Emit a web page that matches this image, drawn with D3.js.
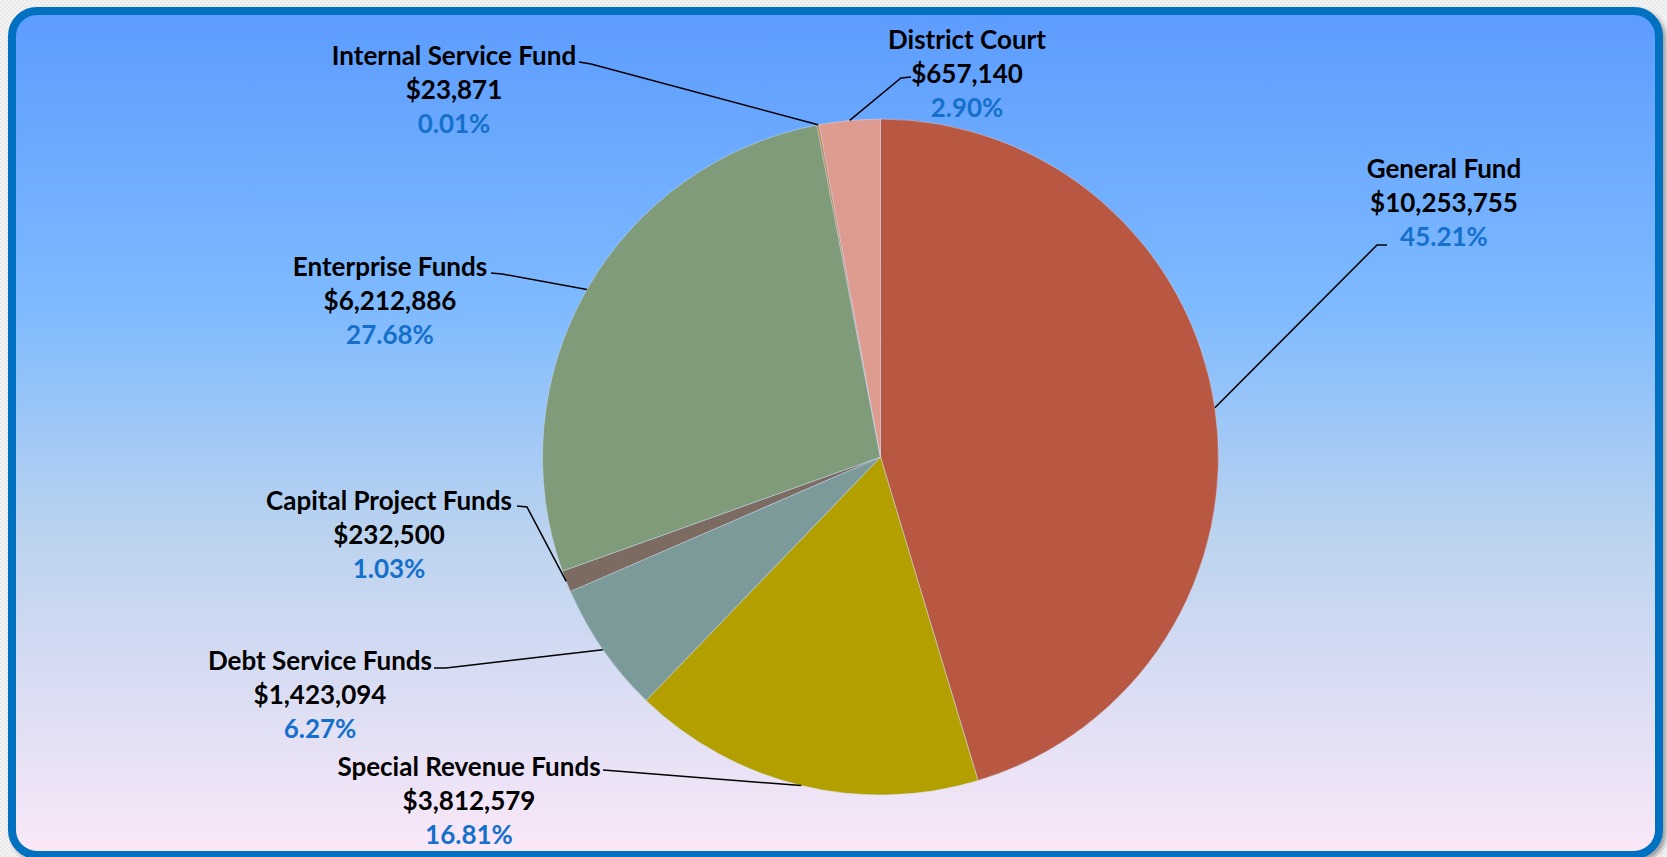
<!DOCTYPE html>
<html>
<head>
<meta charset="utf-8">
<script src="https://cdn.jsdelivr.net/npm/d3@7"></script>
<style>
  html, body { margin: 0; padding: 0; overflow: hidden; background: #f1f1f1; }
  svg { display: block; }
  text { font-family: Lato, "Open Sans", sans-serif; font-weight: 700; }
</style>
</head>
<body>
<svg id="chart" width="1667" height="857"></svg>
<script>
// Fund revenue breakdown
const funds   = ["General Fund", "Special Revenue Funds", "Debt Service Funds", "Capital Project Funds",
                 "Enterprise Funds", "Internal Service Fund", "District Court"];
const amounts = [10253755, 3812579, 1423094, 232500, 6212886, 23871, 657140];
const shares  = ["45.21%", "16.81%", "6.27%", "1.03%", "27.68%", "0.01%", "2.90%"];
const sliceColors = ["#B95842", "#B3A000", "#7B9A99", "#7C6B60", "#7F9B7A", "#C6833A", "#DE9C90"];

// Label block centre (first line) and leader stub [start, elbow] for each slice
const labelCentre = [[1444, 168], [469, 766], [320, 660], [389, 500], [390, 266], [454, 55], [967, 39]];
const leaderStub  = [[[1387, 245], [1377, 245]], [[603, 770], [616, 771]], [[434, 668], [446, 668]],
                     [[517, 506], [527, 507]], [[491, 273], [502, 274]], [[579, 62], [591, 64]],
                     [[911, 77], [901, 78]]];

const W = 1667, H = 857;
const cx = 880.5, cy = 457, R = 338;
const lineGap = 34;

const svg = d3.select("#chart");
const defs = svg.append("defs");

// page texture outside the frame
const pat = defs.append("pattern").attr("id", "tex").attr("width", 4).attr("height", 4)
  .attr("patternUnits", "userSpaceOnUse");
pat.append("rect").attr("width", 4).attr("height", 4).attr("fill", "#f3f3f3");
pat.append("path").attr("d", "M0,4 L4,0").attr("stroke", "#e2e2e2").attr("stroke-width", 1);
svg.append("rect").attr("width", W).attr("height", H).attr("fill", "url(#tex)");

// background gradient inside the frame
const grad = defs.append("linearGradient").attr("id", "bg").attr("x1", 0).attr("y1", 0).attr("x2", 0).attr("y2", 1);
[["0%", "#5C9CFF"], ["35%", "#7EBAFF"], ["62%", "#BBD3EF"], ["100%", "#FBE8F8"]]
  .forEach(([o, c]) => grad.append("stop").attr("offset", o).attr("stop-color", c));

const shadow = defs.append("filter").attr("id", "shadow").attr("x", "-5%").attr("y", "-5%")
  .attr("width", "110%").attr("height", "110%");
shadow.append("feDropShadow").attr("dx", 3).attr("dy", 3).attr("stdDeviation", 2)
  .attr("flood-color", "#000").attr("flood-opacity", 0.35);

svg.append("rect")
  .attr("x", 12).attr("y", 11).attr("width", 1647).attr("height", 844)
  .attr("rx", 25).attr("ry", 25)
  .attr("fill", "url(#bg)")
  .attr("stroke", "#0070C0").attr("stroke-width", 8)
  .attr("filter", "url(#shadow)");

// pie
const data = funds.map((f, i) => ({ fund: f, amount: amounts[i], share: shares[i], color: sliceColors[i] }));
const pie = d3.pie().value(d => d.amount).sort(null).startAngle(0).endAngle(2 * Math.PI);
const arcs = pie(data);
const arc = d3.arc().innerRadius(0).outerRadius(R);

const g = svg.append("g").attr("transform", `translate(${cx},${cy})`);
g.selectAll("path.slice").data(arcs).join("path")
  .attr("class", "slice")
  .attr("d", arc)
  .attr("fill", d => d.data.color)
  .attr("stroke", "rgba(210,225,255,0.55)")
  .attr("stroke-width", 0.8);

// leader lines: stub next to the label, then to the middle of the slice's outer edge
const line = d3.line();
arcs.forEach((a, i) => {
  const mid = (a.startAngle + a.endAngle) / 2;
  const end = [cx + R * Math.sin(mid), cy - R * Math.cos(mid)];
  const [s0, s1] = leaderStub[i];
  svg.append("path")
    .attr("d", line([s0, s1, end]))
    .attr("fill", "none")
    .attr("stroke", "#000")
    .attr("stroke-width", 1.5);
});

// labels
const fmt = d3.format("$,");
arcs.forEach((a, i) => {
  const [x, y] = labelCentre[i];
  const t = svg.append("g").attr("transform", `translate(${x},${y})`);
  const rows = [
    { txt: a.data.fund, fill: "#000" },
    { txt: fmt(a.data.amount), fill: "#000" },
    { txt: a.data.share, fill: "#1570CC" }
  ];
  rows.forEach((r, k) => {
    t.append("text")
      .attr("x", 0).attr("y", k * lineGap)
      .attr("text-anchor", "middle")
      .attr("dominant-baseline", "central")
      .attr("font-size", 26)
      .attr("fill", r.fill)
      .text(r.txt);
  });
});
</script>
</body>
</html>
